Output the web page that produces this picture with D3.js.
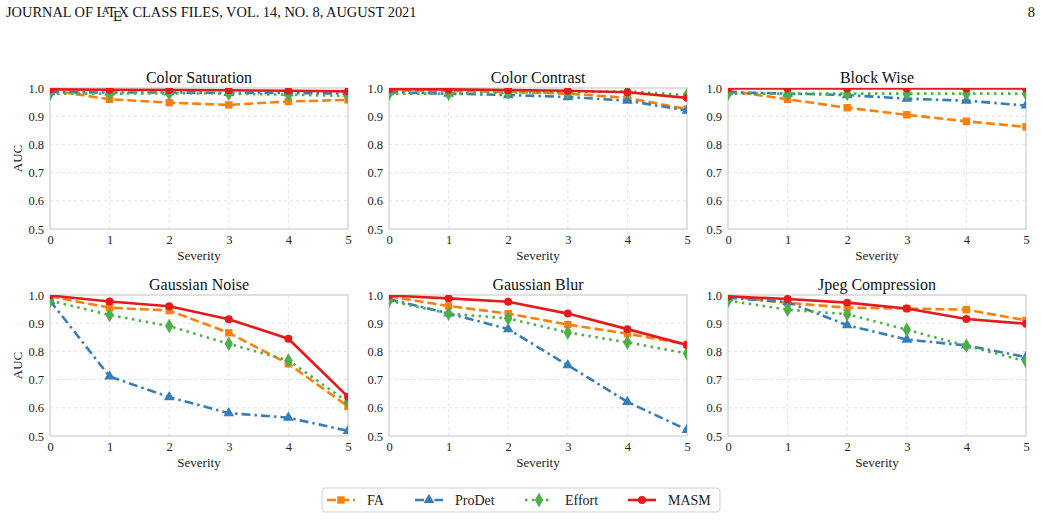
<!DOCTYPE html>
<html>
<head>
<meta charset="utf-8">
<script src="https://cdn.jsdelivr.net/npm/d3@7"></script>
<style>
  body { margin: 0; background: #fff; }
  svg { font-family: "Liberation Serif", "DejaVu Serif", serif; }
</style>
</head>
<body>
<svg id="chart" width="1041" height="520"></svg>
<script>
// severity levels and tick labels
const severity = [0, 1, 2, 3, 4, 5]
const yTicks = [0.5, 0.6, 0.7, 0.8, 0.9, 1.0]

const methods = ['FA', 'ProDet', 'Effort', 'MASM']
const panelTitles = ['Color Saturation', 'Color Contrast', 'Block Wise',
  'Gaussian Noise', 'Gaussian Blur', 'Jpeg Compression']

// AUC per panel, one row per method (FA, ProDet, Effort, MASM)
const colorSaturation = [
  [0.992, 0.960, 0.948, 0.940, 0.952, 0.958],
  [0.985, 0.984, 0.984, 0.983, 0.982, 0.980],
  [0.980, 0.980, 0.981, 0.980, 0.976, 0.972],
  [0.995, 0.994, 0.993, 0.992, 0.990, 0.988]
]
const colorContrast = [
  [0.992, 0.990, 0.986, 0.980, 0.965, 0.925],
  [0.985, 0.980, 0.975, 0.968, 0.955, 0.920],
  [0.980, 0.980, 0.984, 0.985, 0.988, 0.975],
  [0.996, 0.995, 0.993, 0.990, 0.985, 0.965]
]
const blockWise = [
  [0.990, 0.960, 0.930, 0.905, 0.882, 0.862],
  [0.985, 0.980, 0.975, 0.962, 0.955, 0.938],
  [0.980, 0.980, 0.980, 0.980, 0.980, 0.980],
  [0.998, 0.998, 0.998, 0.998, 0.998, 0.998]
]
const gaussianNoise = [
  [0.995, 0.955, 0.945, 0.866, 0.756, 0.605],
  [0.980, 0.711, 0.638, 0.581, 0.565, 0.518],
  [0.980, 0.929, 0.890, 0.827, 0.768, 0.620],
  [0.998, 0.977, 0.960, 0.914, 0.845, 0.639]
]
const gaussianBlur = [
  [0.995, 0.961, 0.934, 0.895, 0.863, 0.825],
  [0.985, 0.935, 0.879, 0.751, 0.621, 0.522],
  [0.980, 0.934, 0.917, 0.867, 0.832, 0.793],
  [0.998, 0.988, 0.976, 0.934, 0.879, 0.823]
]
const jpegCompression = [
  [0.995, 0.972, 0.955, 0.952, 0.948, 0.910],
  [0.990, 0.975, 0.893, 0.842, 0.821, 0.780],
  [0.980, 0.948, 0.932, 0.877, 0.820, 0.765],
  [0.995, 0.986, 0.973, 0.952, 0.915, 0.898]
]
const panelData = [colorSaturation, colorContrast, blockWise,
  gaussianNoise, gaussianBlur, jpegCompression]

// styles
const colors = ['#ff7f0e', '#377eb8', '#4daf4a', '#e41a1c']
const dashes = ['9,4', '9,4,2.5,4', '2.5,4.5', null]
const symbols = [d3.symbolSquare, d3.symbolTriangle, d3.symbolDiamond, d3.symbolCircle]
const symbolSizes = [55, 50, 62, 50]

const colLeft = [50, 389, 728]
const rowTop = [88, 295]
const plotW = 298
const plotH = 141

const svg = d3.select('#chart')

// page header (LaTeX logo built from separate glyphs)
const header = svg.append('g').attr('font-size', 14.4).attr('fill', '#111')
const h1 = header.append('text').attr('x', 6).attr('y', 17).text('JOURNAL OF L')
const h1End = 6 + h1.node().getComputedTextLength()
header.append('text').attr('x', h1End - 3.5).attr('y', 13.5).attr('font-size', 10).text('A')
header.append('text').attr('x', h1End + 1.5).attr('y', 17).text('T')
header.append('text').attr('x', h1End + 7.5).attr('y', 20.5).text('E')
header.append('text').attr('x', h1End + 13).attr('y', 17).text('X CLASS FILES, VOL. 14, NO. 8, AUGUST 2021')
header.append('text')
  .attr('x', 1035).attr('y', 17)
  .attr('text-anchor', 'end')
  .text('8')

const x = d3.scaleLinear().domain([0, 5]).range([0, plotW])
const y = d3.scaleLinear().domain([0.5, 1.0]).range([plotH, 0])

panelData.forEach(function (data, i) {
  const col = i % 3
  const row = Math.floor(i / 3)
  const g = svg.append('g')
    .attr('transform', `translate(${colLeft[col]},${rowTop[row]})`)

  // grid
  g.append('g').selectAll('line.gx')
    .data(severity.slice(1, -1))
    .enter().append('line')
    .attr('x1', d => x(d)).attr('x2', d => x(d))
    .attr('y1', 0).attr('y2', plotH)
    .attr('stroke', '#dcdcdc').attr('stroke-dasharray', '3,3').attr('stroke-width', 0.8)
  g.append('g').selectAll('line.gy')
    .data(yTicks.slice(1, -1))
    .enter().append('line')
    .attr('y1', d => y(d)).attr('y2', d => y(d))
    .attr('x1', 0).attr('x2', plotW)
    .attr('stroke', '#dcdcdc').attr('stroke-dasharray', '3,3').attr('stroke-width', 0.8)

  // axes (no tick marks)
  const xAxis = g.append('g')
    .attr('transform', `translate(0,${plotH})`)
    .call(d3.axisBottom(x).tickValues(severity).tickSize(0).tickPadding(6).tickFormat(d3.format('d')))
  const yAxis = g.append('g')
    .call(d3.axisLeft(y).tickValues(yTicks).tickSize(0).tickPadding(6).tickFormat(d3.format('.1f')))
  ;[xAxis, yAxis].forEach(a => {
    a.select('.domain').remove()
    a.selectAll('text').attr('font-size', 12.5).attr('font-family', 'Liberation Serif').attr('fill', '#222')
  })

  // frame
  g.append('rect')
    .attr('width', plotW).attr('height', plotH)
    .attr('fill', 'none').attr('stroke', '#cccccc').attr('stroke-width', 1.2)

  // clip
  const clipId = 'clip' + i
  g.append('clipPath').attr('id', clipId)
    .append('rect').attr('width', plotW).attr('height', plotH)

  const plot = g.append('g').attr('clip-path', `url(#${clipId})`)
  const line = d3.line().x((d, k) => x(severity[k])).y(d => y(d))

  data.forEach(function (vals, m) {
    plot.append('path')
      .datum(vals)
      .attr('d', line)
      .attr('fill', 'none')
      .attr('stroke', colors[m])
      .attr('stroke-width', 2.6)
      .attr('stroke-dasharray', dashes[m])
    plot.selectAll('path.mk' + m)
      .data(vals)
      .enter().append('path')
      .attr('class', 'mk' + m)
      .attr('transform', (d, k) => `translate(${x(severity[k])},${y(d)})`)
      .attr('d', d3.symbol().type(symbols[m]).size(symbolSizes[m]))
      .attr('fill', colors[m])
  })

  // title and labels
  g.append('text')
    .attr('x', plotW / 2).attr('y', -5)
    .attr('text-anchor', 'middle')
    .attr('font-size', 16)
    .attr('fill', '#111')
    .text(panelTitles[i])
  g.append('text')
    .attr('x', plotW / 2).attr('y', plotH + 31)
    .attr('text-anchor', 'middle')
    .attr('font-size', 13)
    .attr('fill', '#222')
    .text('Severity')
  if (col === 0) {
    g.append('text')
      .attr('transform', `translate(-28,${plotH / 2}) rotate(-90)`)
      .attr('text-anchor', 'middle')
      .attr('font-size', 13)
      .attr('fill', '#222')
      .text('AUC')
  }
})

// legend
const legend = svg.append('g').attr('transform', 'translate(322,488)')
legend.append('rect')
  .attr('width', 398).attr('height', 24).attr('rx', 3)
  .attr('fill', '#fff').attr('stroke', '#d0d0d0')
const legendX = [5, 93, 203, 306]
methods.forEach(function (name, m) {
  const item = legend.append('g').attr('transform', `translate(${legendX[m]},12)`)
  item.append('line')
    .attr('x1', 0).attr('x2', 28)
    .attr('stroke', colors[m]).attr('stroke-width', 2.6)
    .attr('stroke-dasharray', dashes[m])
  item.append('path')
    .attr('transform', 'translate(14,0)')
    .attr('d', d3.symbol().type(symbols[m]).size(symbolSizes[m]))
    .attr('fill', colors[m])
  item.append('text')
    .attr('x', 40).attr('y', 4.5)
    .attr('font-size', 14)
    .attr('fill', '#222')
    .text(name)
})
</script>
</body>
</html>
